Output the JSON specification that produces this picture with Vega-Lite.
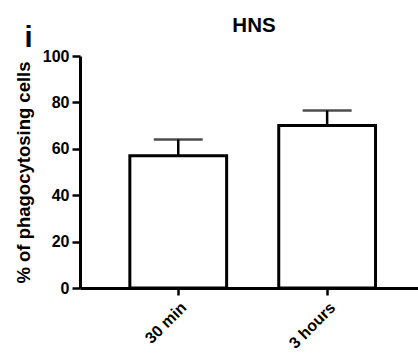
{
  "$schema": "https://vega.github.io/schema/vega-lite/v6.json",
  "width": 338,
  "height": 232,
  "autosize": {"type": "none"},
  "padding": {"left": 80, "top": 56, "right": 0, "bottom": 71},
  "background": "white",
  "config": {
    "view": {"stroke": null},
    "font": "Liberation Sans",
    "axis": {"grid": false, "domainColor": "black", "tickColor": "black", "labelColor": "black", "titleColor": "black", "labelFont": "Liberation Sans", "titleFont": "Liberation Sans", "labelFontWeight": "bold", "titleFontWeight": "bold"}
  },
  "title": {"text": "HNS", "fontSize": 20.5, "fontWeight": "bold", "font": "Liberation Sans", "color": "black", "anchor": "middle", "frame": "group", "dx": 5, "offset": -13},
  "data": {"values": [
    {"time": "30 min", "mean": 57, "upper": 64},
    {"time": "3 hours", "mean": 70, "upper": 76.5}
  ]},
  "layer": [
    {
      "mark": {"type": "bar", "fill": "white", "stroke": "black", "strokeWidth": 3},
      "encoding": {
        "x": {"field": "time", "type": "nominal", "sort": null,
              "scale": {"paddingInner": 0.35, "paddingOuter": 0.31, "align": 0.54},
              "axis": {"title": null, "labelAngle": -45, "labelFontSize": 16, "domainWidth": 3, "tickWidth": 2.5, "tickSize": 7, "labelPadding": 4}},
        "y": {"field": "mean", "type": "quantitative",
              "scale": {"domain": [0, 100], "nice": false},
              "axis": {"title": "% of phagocytosing cells", "titleFontSize": 18.5, "values": [0, 20, 40, 60, 80, 100], "labelFontSize": 16, "domainWidth": 3, "tickWidth": 2.5, "tickSize": 8, "labelPadding": 3, "titlePadding": 9}}
      }
    },
    {
      "mark": {"type": "rule", "color": "black", "strokeWidth": 2.5},
      "encoding": {
        "x": {"field": "time", "type": "nominal", "sort": null, "axis": null},
        "y": {"field": "mean", "type": "quantitative"},
        "y2": {"field": "upper"}
      }
    },
    {
      "mark": {"type": "tick", "color": "black", "thickness": 2.5, "size": 49},
      "encoding": {
        "x": {"field": "time", "type": "nominal", "sort": null,
              "axis": {"orient": "top", "title": "i", "labels": false, "ticks": false, "domain": false, "titleFontSize": 29, "titleAngle": 0, "titleAnchor": "start", "titleAlign": "left", "titleBaseline": "bottom", "titleX": -56, "titleY": -4}},
        "y": {"field": "upper", "type": "quantitative"}
      }
    }
  ],
  "resolve": {"axis": {"x": "independent"}}
}
